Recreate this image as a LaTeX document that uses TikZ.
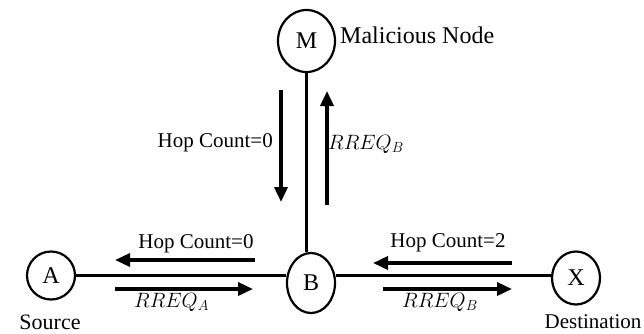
\documentclass[tikz,border=0pt]{standalone}
\usepackage{fontspec}
\setmainfont{Liberation Serif}
\usetikzlibrary{arrows.meta,shapes.geometric}
\begin{document}
\begin{tikzpicture}[x=1pt,y=-1pt,
  netnode/.style={draw,ellipse,line width=2.2pt,inner sep=0pt,font=\fontsize{24}{26}\selectfont},
  link/.style={line width=2.8pt},
  flow/.style={line width=3.5pt,-{Triangle[length=15pt,width=13pt]}},
  lbl/.style={font=\fontsize{21}{24}\selectfont,inner sep=0pt,anchor=base},
  mlbl/.style={font=\fontsize{20.5}{24}\selectfont,inner sep=0pt,anchor=base west}]
\useasboundingbox (0,0) rectangle (644,333);
% nodes
\node[netnode,minimum width=48pt,minimum height=48pt] (A) at (51,275.5) {A};
\node[netnode,minimum width=48pt,minimum height=60pt] (B) at (311,283) {B};
\node[netnode,minimum width=48pt,minimum height=53pt] (X) at (576,278) {X};
\node[netnode,minimum width=57pt,minimum height=62pt] (M) at (306.5,41) {M};
% links
\draw[link] (A.east) -- (A.east -| B.west);
\draw[link] (X.west |- A.east) -- (A.east -| B.east);
\draw[link] (M.south) -- (M.south |- B.north);
% arrow end points
\coordinate (h1s) at (255,260);
\coordinate (h1e) at (115,260);
\coordinate (h2s) at (115,289);
\coordinate (h2e) at (253,289);
\coordinate (h3s) at (512,263);
\coordinate (h3e) at (373,263);
\coordinate (h4s) at (383,289);
\coordinate (h4e) at (512,289);
\coordinate (v1s) at (281,90);
\coordinate (v1e) at (281,202);
\coordinate (v2s) at (327,205);
\coordinate (v2e) at (327,91);
\draw[flow] (h1s) -- (h1e);
\draw[flow] (h2s) -- (h2e);
\draw[flow] (h3s) -- (h3e);
\draw[flow] (h4s) -- (h4e);
\draw[flow] (v1s) -- (v1e);
\draw[flow] (v2s) -- (v2e);
% labels
\node[lbl] (l1) at (196,248) {Hop Count=0};
\node[lbl] (l2) at (448,247) {Hop Count=2};
\node[lbl,anchor=base east] (l3) at (273,147) {Hop Count=0};
\node[mlbl] (r1) at (134,307) {$RREQ_A$};
\node[mlbl] (r2) at (402,307) {$RREQ_B$};
\node[mlbl] (r3) at (328,149) {$RREQ_B$};
\node[font=\fontsize{24}{26}\selectfont,inner sep=0pt,anchor=base west] (mal) at (340,43) {Malicious Node};
\node[lbl,font=\fontsize{22}{24}\selectfont] (src) at (50,329) {Source};
\node[lbl] (dst) at (593,328.5) {Destination};
\end{tikzpicture}
\end{document}
